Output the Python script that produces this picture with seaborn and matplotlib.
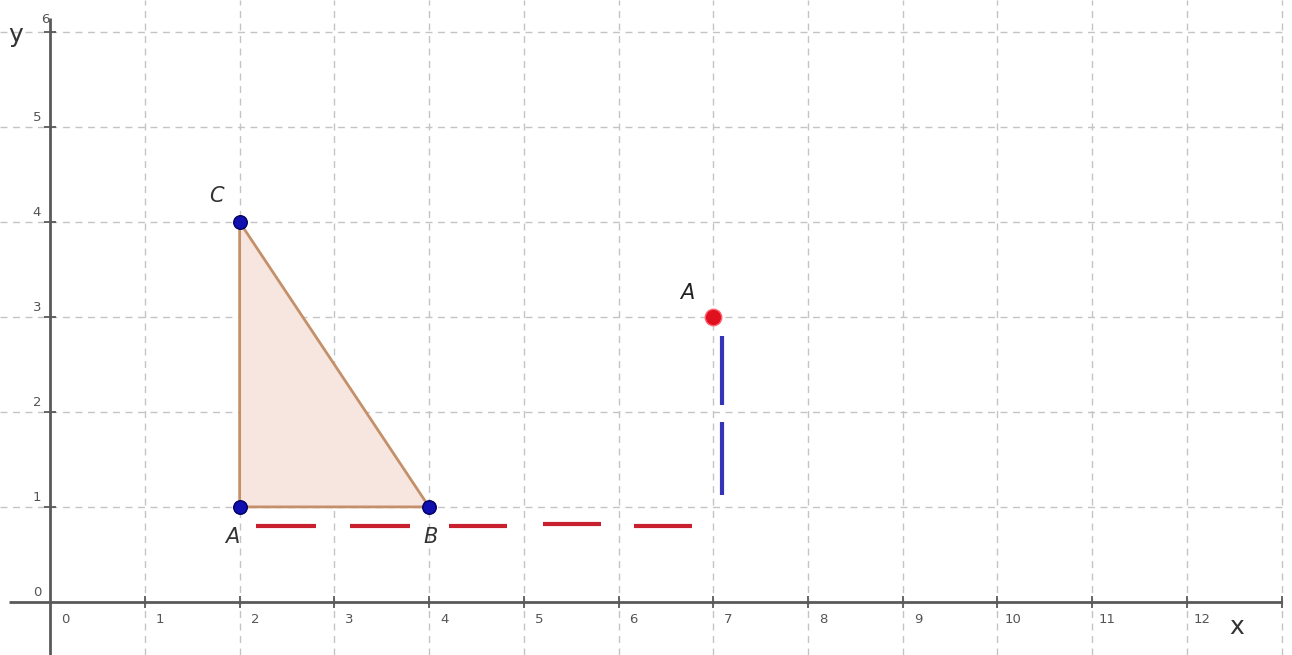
import numpy as np
import pandas as pd
import matplotlib
matplotlib.use("Agg")
import matplotlib.pyplot as plt
import seaborn as sns

# data
x_ticks = list(range(0, 13))
y_ticks = list(range(0, 7))
tri_labels = ["A", "B", "C"]
tri_x = [2, 4, 2]
tri_y = [1, 1, 4]
point_label = "A"
point_x = [7]
point_y = [3]
# red dashed guide (horizontal) and blue dashed guide (vertical)
red_x_start = [2.17, 3.17, 4.21, 5.20, 6.16]
red_x_end = [2.81, 3.80, 4.82, 5.82, 6.78]
red_y = [0.80, 0.80, 0.80, 0.82, 0.80]
blue_x = 7.09
blue_y_start = [1.13, 2.07]
blue_y_end = [1.89, 2.80]

sns.set_theme(style="white")
plt.rcParams['font.family'] = ['DejaVu Sans']

fig = plt.figure(figsize=(12.92, 6.55), dpi=100)
ax = fig.add_axes([0, 0, 1, 1])
ax.set_xlim(-0.53, 13.11)
ax.set_ylim(-0.56, 6.34)
ax.axis('off')

grid_kw = dict(color='#c4c4c4', lw=1.0, ls=(0, (5, 4)), zorder=1)
for gx in range(1, 14):
    ax.vlines(gx, -0.56, 6.34, **grid_kw)
for gy in range(1, 7):
    ax.hlines(gy, -0.53, 13.0, **grid_kw)

axis_col = '#5a5a5a'
ax.plot([-0.44, 13.0], [0, 0], color=axis_col, lw=2, zorder=2, solid_capstyle='butt')
ax.plot([0, 0], [-0.56, 6.15], color=axis_col, lw=2, zorder=2, solid_capstyle='butt')
ax.plot(list(range(1, 14)), [0] * 13, ls='none', marker='|', ms=8, mew=1.3, color=axis_col, zorder=2)
ax.plot([0] * 6, list(range(1, 7)), ls='none', marker='_', ms=8, mew=1.3, color=axis_col, zorder=2)

lab_col = '#555555'
for t in x_ticks:
    ax.text(t + 0.16, -0.19, str(t), fontsize=9.5, color=lab_col, ha='center', va='center')
for t in y_ticks:
    if t == 6:
        ax.text(-0.05, 6.13, str(t), fontsize=9.5, color=lab_col, ha='center', va='center')
    else:
        ax.text(-0.14, t + 0.1, str(t), fontsize=9.5, color=lab_col, ha='center', va='center')
ax.text(-0.37, 5.97, "y", fontsize=18, color='#333333', ha='center', va='center')
ax.text(12.53, -0.26, "x", fontsize=18, color='#333333', ha='center', va='center')

# triangle
ax.fill(tri_x, tri_y, facecolor='#f7e6df', edgecolor='#c4906a', lw=2, zorder=3)
tri = pd.DataFrame({'x': tri_x, 'y': tri_y, 'label': tri_labels})
sns.scatterplot(data=tri, x='x', y='y', ax=ax, s=95, color='#1010b0',
                edgecolor='#000060', linewidth=1, zorder=5, legend=False)
label_off = {"A": (-0.08, -0.32), "B": (0.02, -0.32), "C": (-0.25, 0.28)}
for _, r in tri.iterrows():
    dx, dy = label_off[r['label']]
    ax.text(r['x'] + dx, r['y'] + dy, r['label'], fontsize=15, style='italic',
            color='#333333', ha='center', va='center', zorder=6)

# red dashes
for xs, xe, yy in zip(red_x_start, red_x_end, red_y):
    ax.plot([xs, xe], [yy, yy], color='#c8202e', lw=3, solid_capstyle='butt', zorder=4)
# blue dashes
for ys, ye in zip(blue_y_start, blue_y_end):
    ax.plot([blue_x, blue_x], [ys, ye], color='#3434b8', lw=3, solid_capstyle='butt', zorder=4)

pt = pd.DataFrame({'x': point_x, 'y': point_y})
sns.scatterplot(data=pt, x='x', y='y', ax=ax, s=140, color='#e0101e',
                edgecolor='#ff6070', linewidth=1, zorder=5, legend=False)
ax.text(point_x[0] - 0.27, point_y[0] + 0.25, point_label, fontsize=15, style='italic',
        color='#222222', ha='center', va='center', zorder=6)

fig.savefig("out.png", dpi=100)
